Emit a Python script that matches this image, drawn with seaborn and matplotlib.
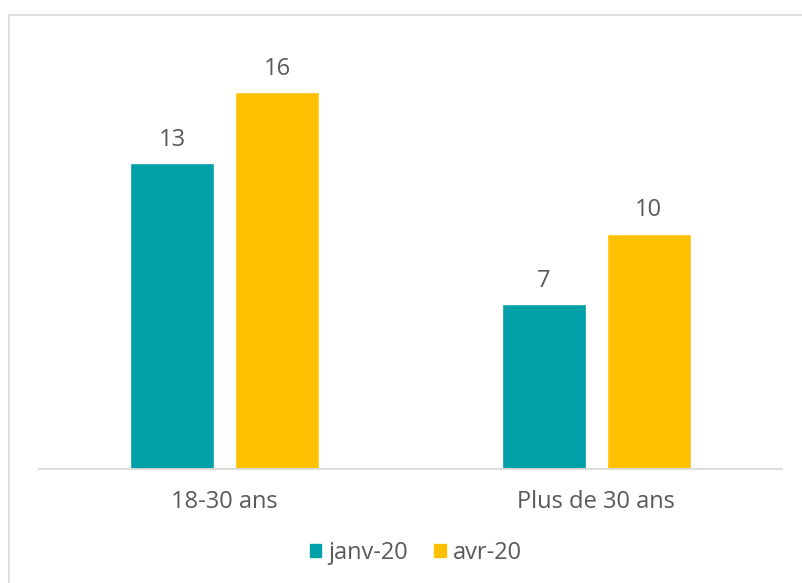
import matplotlib
matplotlib.use('Agg')
import matplotlib.pyplot as plt
import matplotlib.patches as mpatches
import seaborn as sns
import pandas as pd

# data
categories = ['18-30 ans', 'Plus de 30 ans']
periods = ['janv-20', 'avr-20']
janv_values = [13, 7]
avr_values = [16, 10]

TEAL = '#00A0A8'
YELLOW = '#FFC000'
GREY_TXT = '#595959'
GREY_LINE = '#D9D9D9'

sns.set_theme(style='white')
plt.rcParams['font.family'] = ['Open Sans', 'DejaVu Sans']

df = pd.DataFrame({
    'cat': categories * 2,
    'periode': [periods[0]] * 2 + [periods[1]] * 2,
    'val': janv_values + avr_values,
})

W, H = 803, 583
fig = plt.figure(figsize=(W / 100, H / 100), dpi=100)
fig.patch.set_facecolor('white')

# axes placement in pixels
left, right, base = 39, 782, 469
scale = 23.55  # px per unit
ymax = 19
ax = fig.add_axes([left / W, (H - base) / H, (right - left) / W, ymax * scale / H])

sns.barplot(data=df, x='cat', y='val', hue='periode', order=categories,
            hue_order=periods, palette=[TEAL, YELLOW], width=0.566, gap=0.2,
            saturation=1, ax=ax, legend=False)

for cont in ax.containers:
    ax.bar_label(cont, fmt='%g', padding=8, fontsize=17, color=GREY_TXT)

ax.set_xlim(-0.5, 1.5)
ax.set_ylim(0, ymax)
ax.set_xlabel('')
ax.set_ylabel('')
ax.set_yticks([])
ax.tick_params(axis='x', length=0, pad=15, labelsize=17, labelcolor=GREY_TXT)
for s in ['top', 'right', 'left']:
    ax.spines[s].set_visible(False)
ax.spines['bottom'].set_color(GREY_LINE)
ax.spines['bottom'].set_linewidth(1.3)
ax.set_facecolor('none')

# legend under the chart
handles = [mpatches.Patch(color=TEAL, label=periods[0]),
           mpatches.Patch(color=YELLOW, label=periods[1])]
fig.legend(handles=handles, loc='center', bbox_to_anchor=(416 / W, 1 - 553 / H),
           ncol=2, frameon=False, fontsize=17, labelcolor=GREY_TXT,
           handlelength=0.5, handleheight=0.5, handletextpad=0.3, columnspacing=1.1)

# chart border (extends past right and bottom edges)
fig.patches.append(mpatches.Rectangle((9.5 / W, -0.05), 1.2, 1 - 14.5 / H + 0.05,
                                      transform=fig.transFigure, fill=False,
                                      edgecolor=GREY_LINE, linewidth=1.2))

fig.savefig('out.png', dpi=100)
